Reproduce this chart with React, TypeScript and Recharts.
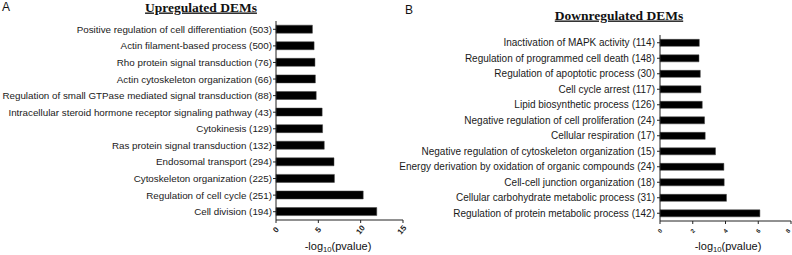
import { BarChart, Bar, XAxis, YAxis } from "recharts";

const upTerms = [
  "Positive regulation of cell differentiation (503)",
  "Actin filament-based process (500)",
  "Rho protein signal transduction (76)",
  "Actin cytoskeleton organization (66)",
  "Regulation of small GTPase mediated signal transduction (88)",
  "Intracellular steroid hormone receptor signaling pathway (43)",
  "Cytokinesis (129)",
  "Ras protein signal transduction (132)",
  "Endosomal transport (294)",
  "Cytoskeleton organization (225)",
  "Regulation of cell cycle (251)",
  "Cell division (194)",
];
const upValues = [4.3, 4.5, 4.6, 4.65, 4.75, 5.45, 5.5, 5.7, 6.85, 6.9, 10.3, 11.9];
const upTicks = [0, 5, 10, 15];

const downTerms = [
  "Inactivation of MAPK activity (114)",
  "Regulation of programmed cell death (148)",
  "Regulation of apoptotic process (30)",
  "Cell cycle arrest (117)",
  "Lipid biosynthetic process (126)",
  "Negative regulation of cell proliferation (24)",
  "Cellular respiration (17)",
  "Negative regulation of cytoskeleton organization (15)",
  "Energy derivation by oxidation of organic compounds (24)",
  "Cell-cell junction organization (18)",
  "Cellular carbohydrate metabolic process (31)",
  "Regulation of protein metabolic process (142)",
];
const downValues = [2.4, 2.38, 2.46, 2.5, 2.58, 2.72, 2.76, 3.39, 3.9, 3.92, 4.06, 6.1];
const downTicks = [0, 2, 4, 6, 8];

const upData = upTerms.map((term, i) => ({ term, value: upValues[i] }));
const downData = downTerms.map((term, i) => ({ term, value: downValues[i] }));

const sans = "'Liberation Sans', Arial, sans-serif";
const serif = "'Liberation Serif', 'Times New Roman', serif";

function RotTick(props: any) {
  const { x, y, payload, fontSize, dy } = props;
  return (
    <g transform={`translate(${x},${y + dy})`}>
      <text
        transform="rotate(-50)"
        textAnchor="middle"
        dominantBaseline="central"
        fontSize={fontSize}
        fontFamily={sans}
        fontWeight="bold"
        fill="#222"
      >
        {payload.value}
      </text>
    </g>
  );
}

function TermTick(props: any) {
  const { x, y, payload, size } = props;
  return (
    <text
      x={x}
      y={y}
      textAnchor="end"
      dominantBaseline="central"
      fontSize={size}
      fontFamily={sans}
      fill="#1a1a1a"
    >
      {payload.value}
    </text>
  );
}

function AxisTitle({ x, y, size }: { x: number; y: number; size: number }) {
  return (
    <text x={x} y={y} textAnchor="middle" fontSize={size} fontFamily={sans} fill="#111">
      -log
      <tspan fontSize={size * 0.7} dy={2}>10</tspan>
      <tspan dy={-2}>(pvalue)</tspan>
    </text>
  );
}

export default function App() {
  return (
    <div style={{ position: "absolute", left: 0, top: 0, width: 792, height: 255, background: "#fff" }}>
      <div style={{ position: "absolute", left: 0, top: 0 }}>
        <BarChart
          width={410}
          height={255}
          data={upData}
          layout="vertical"
          margin={{ top: 21, right: 7, left: 0, bottom: 0 }}
          barCategoryGap="25%"
        >
          <XAxis
            type="number"
            domain={[0, 15]}
            ticks={upTicks}
            height={35}
            stroke="#222"
            tickSize={3}
            tick={(p: any) => <RotTick {...p} fontSize={8} dy={5} />}
          />
          <YAxis
            type="category"
            dataKey="term"
            width={276}
            interval={0}
            stroke="#222"
            tickSize={3}
            tickMargin={1}
            tick={(p: any) => <TermTick {...p} size={9.8} />}
          />
          <Bar dataKey="value" fill="#000" stroke="#444" strokeWidth={0.5} isAnimationActive={false} />
        </BarChart>
      </div>
      <div style={{ position: "absolute", left: 392, top: 0 }}>
        <BarChart
          width={400}
          height={255}
          data={downData}
          layout="vertical"
          margin={{ top: 35, right: 1, left: 0, bottom: 0 }}
          barCategoryGap="28%"
        >
          <XAxis
            type="number"
            domain={[0, 8]}
            ticks={downTicks}
            height={34}
            stroke="#222"
            tickSize={3}
            tick={(p: any) => <RotTick {...p} fontSize={6} dy={5} />}
          />
          <YAxis
            type="category"
            dataKey="term"
            width={268}
            interval={0}
            stroke="#222"
            tickSize={3}
            tickMargin={2}
            tick={(p: any) => <TermTick {...p} size={10} />}
          />
          <Bar dataKey="value" fill="#000" stroke="#444" strokeWidth={0.5} isAnimationActive={false} />
        </BarChart>
      </div>
      <svg
        width={792}
        height={255}
        style={{ position: "absolute", left: 0, top: 0, pointerEvents: "none" }}
      >
        <text x={2} y={11} fontSize={12} fontFamily={sans} fill="#111">A</text>
        <text x={405} y={14} fontSize={12} fontFamily={sans} fill="#111">B</text>
        <text
          x={201}
          y={11.5}
          textAnchor="middle"
          fontSize={13.5}
          fontWeight="bold"
          fontFamily={serif}
          textDecoration="underline"
          fill="#111"
        >
          Upregulated DEMs
        </text>
        <text
          x={619}
          y={19.5}
          textAnchor="middle"
          fontSize={13.5}
          fontWeight="bold"
          fontFamily={serif}
          textDecoration="underline"
          fill="#111"
        >
          Downregulated DEMs
        </text>
        <AxisTitle x={338} y={250} size={11} />
        <AxisTitle x={728} y={250} size={11} />
      </svg>
    </div>
  );
}
